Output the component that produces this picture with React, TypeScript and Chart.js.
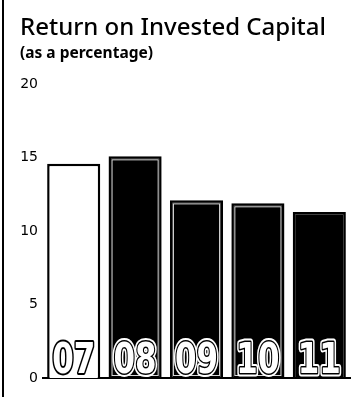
import React, { useEffect, useRef } from "react";
import { Chart, registerables } from "chart.js";

Chart.register(...registerables);

const categories = ["07", "08", "09", "10", "11"];
const values = [14.6, 15.1, 12.1, 11.9, 11.3];
const fillColors = ["#ffffff", "#000000", "#000000", "#000000", "#000000"];
const innerLine = [false, true, true, true, false];
const yMin = 0;
const yMax = 20;
const yStep = 5;
const titleText = "Return on Invested Capital";
const subtitleText = "(as a percentage)";

const barLabelPlugin = {
  id: "barLabels",
  afterDatasetsDraw(chart: any) {
    const ctx = chart.ctx as CanvasRenderingContext2D;
    const meta = chart.getDatasetMeta(0);
    meta.data.forEach((bar: any, i: number) => {
      const { x, y, base, width } = bar.getProps(["x", "y", "base", "width"], true);
      const dark = fillColors[i] !== "#ffffff";
      ctx.save();
      if (innerLine[i]) {
        ctx.strokeStyle = "rgba(255,255,255,0.85)";
        ctx.lineWidth = 1;
        ctx.strokeRect(x - width / 2 + 3.5, y + 3.5, width - 7, base - y - 6);
      }
      ctx.translate(x, base - 5);
      ctx.scale(0.72, 1);
      ctx.font = "bold 43px 'DejaVu Sans'";
      ctx.textAlign = "center";
      ctx.textBaseline = "alphabetic";
      ctx.lineJoin = "round";
      const t = categories[i];
      if (dark) {
        ctx.strokeStyle = "#ffffff";
        ctx.lineWidth = 7;
        ctx.strokeText(t, 0, 0);
        ctx.strokeStyle = "#000000";
        ctx.lineWidth = 3;
        ctx.strokeText(t, 0, 0);
        ctx.fillStyle = "#ffffff";
        ctx.fillText(t, 0, 0);
      } else {
        ctx.strokeStyle = "#000000";
        ctx.lineWidth = 4;
        ctx.strokeText(t, 0, 0);
        ctx.fillStyle = "#ffffff";
        ctx.fillText(t, 0, 0);
      }
      ctx.restore();
    });
  },
};

export default function App() {
  const ref = useRef<HTMLCanvasElement | null>(null);

  useEffect(() => {
    document.body.style.margin = "0";
    const canvas = ref.current;
    if (!canvas) return;
    const chart = new Chart(canvas, {
      type: "bar",
      data: {
        labels: categories,
        datasets: [
          {
            data: values,
            backgroundColor: fillColors,
            borderColor: "#000000",
            borderWidth: 2.5,
            barPercentage: 0.865,
            categoryPercentage: 1,
          },
        ],
      },
      options: {
        animation: false,
        responsive: false,
        maintainAspectRatio: false,
        layout: { padding: { top: 14, left: 20, right: 4, bottom: 19 } },
        plugins: {
          legend: { display: false },
          tooltip: { enabled: false },
          title: {
            display: true,
            text: titleText,
            align: "start",
            color: "#000000",
            font: { family: "'Noto Sans'", size: 24, weight: "500" },
            padding: { top: 0, bottom: 1 },
          },
          subtitle: {
            display: true,
            text: subtitleText,
            align: "start",
            color: "#000000",
            font: { family: "'Noto Sans'", size: 15.5, weight: "bold" },
            padding: { top: 0, bottom: 22 },
          },
        },
        scales: {
          x: {
            grid: { display: false, drawTicks: false },
            border: { display: true, color: "#000000", width: 2 },
            ticks: { display: false },
          },
          y: {
            min: yMin,
            max: yMax,
            grid: { display: false, drawTicks: false },
            border: { display: false },
            ticks: {
              stepSize: yStep,
              color: "#000000",
              padding: 5,
              font: { family: "'DejaVu Sans'", size: 14 },
            },
            afterFit: (scale: any) => {
              scale.width = 23;
            },
          },
        },
      },
      plugins: [barLabelPlugin],
    });
    return () => chart.destroy();
  }, []);

  return (
    <div style={{ position: "relative", width: 354, height: 397, background: "#ffffff" }}>
      <canvas ref={ref} width={354} height={397} style={{ display: "block" }} />
      <div
        style={{
          position: "absolute",
          left: 2,
          top: 0,
          width: 1.5,
          height: 397,
          background: "#000000",
        }}
      />
    </div>
  );
}
